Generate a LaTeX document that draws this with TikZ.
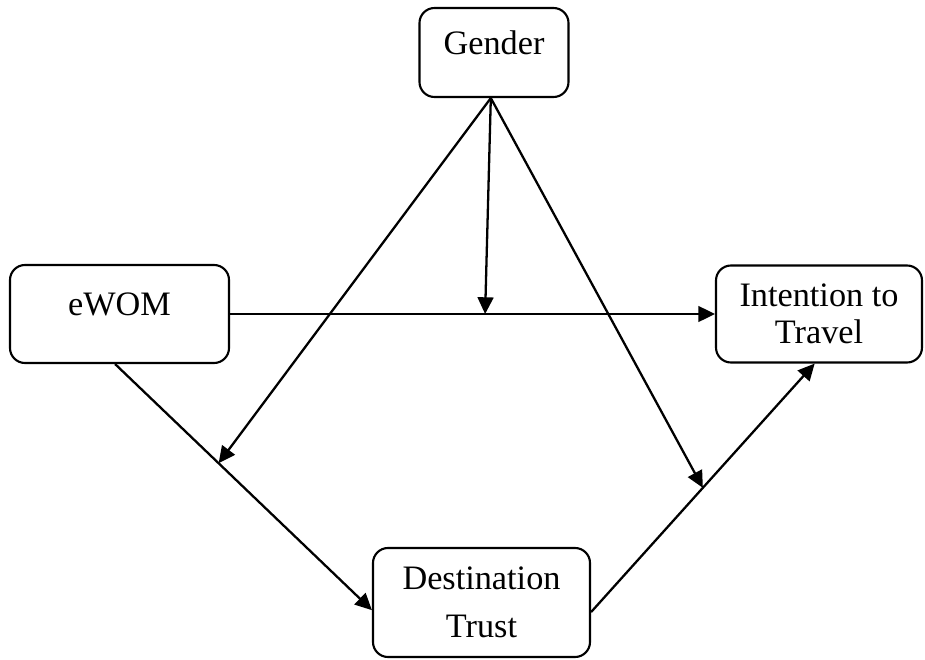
\documentclass[tikz,border=0pt]{standalone}
\usepackage{fontspec}
\setmainfont{Liberation Serif}
\usetikzlibrary{arrows.meta}

\begin{document}
\begin{tikzpicture}[
  box/.style={draw, line width=1.2pt, rounded corners=0.3cm, align=center,
    font=\fontsize{19.5}{21}\selectfont},
  oneline/.style={text height=13pt, text depth=11pt},
  link/.style={line width=1.3pt, -{Triangle[length=9.5pt,width=9pt]}}
]
  \useasboundingbox (0,0) rectangle (18.5,13.18);
  \node[box, oneline, minimum width=2.98cm, minimum height=1.78cm] (gender) at (9.88,12.13) {Gender};
  \node[box, oneline, minimum width=4.38cm, minimum height=1.96cm] (ewom) at (2.39,6.90) {eWOM};
  \node[box, minimum width=4.12cm, minimum height=1.94cm] (intent) at (16.38,6.90) {Intention to\\Travel};
  \node[box, minimum width=4.34cm, minimum height=2.18cm] (trust) at (9.63,1.13) {Destination\\[6pt]Trust};

  \draw[link] (ewom) -- coordinate[pos=0.526] (m1) (intent);
  \draw[link] (ewom.-95) -- coordinate[pos=0.403] (m2) (trust.184);
  \draw[link] (trust.-5) -- coordinate[pos=0.5] (m3) (intent.-95);
  \draw[link] (gender.-94) -- (m1);
  \draw[link] (gender.-94) -- (m2);
  \draw[link] (gender.-94) -- (m3);
\end{tikzpicture}
\end{document}
